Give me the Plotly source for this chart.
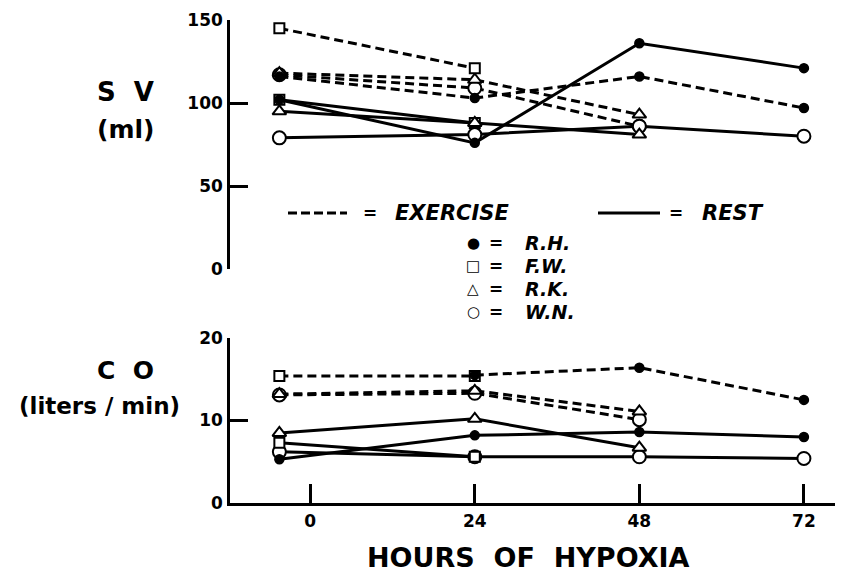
import plotly.graph_objects as go

# ---------------- data ----------------
hours = [-4.5, 24, 48, 72]
tick_hours = [0, 24, 48, 72]
tick_hour_labels = ["0", "24", "48", "72"]
sv_ticks = [0, 50, 100, 150]
co_ticks = [0, 10, 20]

# Stroke volume (ml)
sv_ex_RH = [116, 103, 116, 97]
sv_ex_FW = [145, 121, None, None]
sv_ex_RK = [118, 114, 93, None]
sv_ex_WN = [117, 109, 86, None]
sv_rest_RH = [102, 76, 136, 121]
sv_rest_FW = [102, 88, None, None]
sv_rest_RK = [95, 88, 81, None]
sv_rest_WN = [79, 81, 86, 80]

# Cardiac output (liters/min)
co_ex_RH = [None, 15.5, 16.4, 12.5]
co_ex_FW = [15.4, 15.4, None, None]
co_ex_RK = [13.2, 13.6, 11.1, None]
co_ex_WN = [13.1, 13.3, 10.1, None]
co_rest_RH = [5.3, 8.2, 8.6, 8.0]
co_rest_FW = [7.3, 5.6, None, None]
co_rest_RK = [8.5, 10.2, 6.7, None]
co_rest_WN = [6.2, 5.6, 5.6, 5.4]

# ---------------- styles ----------------
OFF = 8  # page body margin of the browser
W, H = 843 - OFF, 585 - OFF
L, T = 230 - OFF, 20 - OFF
B = H - (503 - OFF)
R = 0
PW, PH = W - L - R, H - T - B
FONT = "DejaVu Sans"

marker_style = {
    "R.H.": dict(symbol="circle", size=9, color="black", line=dict(color="black", width=1.5)),
    "F.W.": dict(symbol="square", size=10, color="white", line=dict(color="black", width=2)),
    "R.K.": dict(symbol="triangle-up", size=12, color="white", line=dict(color="black", width=2)),
    "W.N.": dict(symbol="circle", size=13, color="white", line=dict(color="black", width=2)),
}

fig = go.Figure()

def add(ys, subj, dashed, xa, ya):
    fig.add_trace(go.Scatter(
        x=hours, y=ys, mode="lines+markers", xaxis=xa, yaxis=ya,
        line=dict(color="black", width=3, dash="9px,5px" if dashed else "solid"),
        marker=marker_style[subj], cliponaxis=False, showlegend=False,
        connectgaps=False, hoverinfo="skip"))

# drawing order chosen so overlapping symbols look like the original
for ys, s in [(sv_ex_WN, "W.N."), (sv_ex_RK, "R.K."), (sv_ex_FW, "F.W."), (sv_ex_RH, "R.H.")]:
    add(ys, s, True, "x2", "y2")
for ys, s in [(sv_rest_FW, "F.W."), (sv_rest_WN, "W.N."), (sv_rest_RK, "R.K."), (sv_rest_RH, "R.H.")]:
    add(ys, s, False, "x2", "y2")
for ys, s in [(co_ex_WN, "W.N."), (co_ex_RK, "R.K."), (co_ex_FW, "F.W."), (co_ex_RH, "R.H.")]:
    add(ys, s, True, "x", "y")
for ys, s in [(co_rest_WN, "W.N."), (co_rest_RK, "R.K."), (co_rest_FW, "F.W."), (co_rest_RH, "R.H.")]:
    add(ys, s, False, "x", "y")

def px(x):
    return (x - OFF - L) / PW

def py(y):
    return (H - B - (y - OFF)) / PH

tickfont = dict(family=FONT, size=17, color="black", weight="bold")
axis_common = dict(showgrid=False, zeroline=False, showline=True, linecolor="black",
                   linewidth=2.5, ticks="inside", tickcolor="black", tickwidth=2.5,
                   tickfont=tickfont)

fig.update_layout(
    width=W, height=H,
    margin=dict(l=L, r=R, t=T, b=B, autoexpand=False),
    paper_bgcolor="white", plot_bgcolor="white",
    xaxis=dict(domain=[0, 1], range=[-11.7, 77.7], anchor="y",
               tickvals=tick_hours, ticktext=tick_hour_labels, ticklen=19,
               ticklabelstandoff=1, **axis_common),
    yaxis=dict(domain=[0, (503 - 338) / PH], range=[0, 20], anchor="x",
               tickvals=co_ticks, ticklen=18, ticklabelstandoff=1, **axis_common),
    xaxis2=dict(domain=[0, 1], range=[-11.7, 77.7], anchor="y2", visible=False),
    yaxis2=dict(domain=[(503 - 269) / PH, 1], range=[0, 150], anchor="x2",
                tickvals=sv_ticks, ticklen=18, ticklabelstandoff=1, **axis_common),
)

def text(x, y, s, size, italic=False, xanchor="center"):
    fig.add_annotation(x=px(x), y=py(y), xref="paper", yref="paper", text=s,
                       showarrow=False, xanchor=xanchor, yanchor="middle",
                       font=dict(family=FONT, size=size, color="black", weight="bold",
                                 style="italic" if italic else "normal"))

# axis titles
text(125, 92, "S&nbsp;&nbsp;V", 26)
text(126, 130, "(ml)", 25)
text(126, 371, "C&nbsp;&nbsp;O", 25)
text(99, 406, "(liters / min)", 23)
text(528, 557, "HOURS&nbsp;&nbsp;OF&nbsp;&nbsp;HYPOXIA", 27)

# key
fig.add_shape(type="line", xref="paper", yref="paper", x0=px(288), x1=px(347),
              y0=py(213), y1=py(213), line=dict(color="black", width=3, dash="9px,4px"))
text(370, 213, "=", 17)
text(393, 213, "EXERCISE", 21, italic=True, xanchor="left")
fig.add_shape(type="line", xref="paper", yref="paper", x0=px(598), x1=px(660),
              y0=py(213), y1=py(213), line=dict(color="black", width=3))
text(676, 213, "=", 17)
text(700, 213, "REST", 21, italic=True, xanchor="left")

key_glyphs = ["●", "□", "△", "○"]
key_names = ["R.H.", "F.W.", "R.K.", "W.N."]
for i, (g, s) in enumerate(zip(key_glyphs, key_names)):
    y = 243 + i * 23
    text(473, y, g, 15)
    text(496, y, "=", 17)
    text(523, y, s, 19, italic=True, xanchor="left")

fig.write_html("out.html")
